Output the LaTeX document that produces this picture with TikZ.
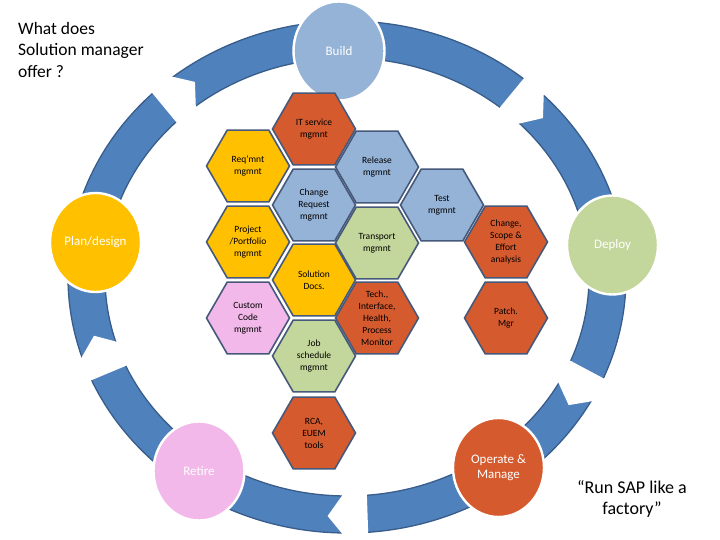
\documentclass[tikz,border=0pt]{standalone}
\usepackage{fontspec}
\setmainfont{Carlito}
\usetikzlibrary{shapes.geometric,shapes.symbols}
\definecolor{band}{HTML}{4F81BD}
\definecolor{bandedge}{HTML}{385D8A}
\definecolor{skyblue}{HTML}{95B3D7}
\definecolor{amber}{HTML}{FFC000}
\definecolor{sage}{HTML}{C3D69B}
\definecolor{blush}{HTML}{F3B8EA}
\definecolor{rust}{HTML}{D55A2E}
\definecolor{hexline}{HTML}{46597A}
\tikzset{
  stage/.style={ellipse,draw=white,line width=2.4pt,minimum width=91pt,minimum height=99pt,inner sep=0pt,align=center,text=white,font=\fontsize{13}{15}\selectfont},
  hex/.style={regular polygon,regular polygon sides=6,minimum size=83pt,inner sep=0pt,draw=hexline,line width=1.6pt},
  hexr/.style={hex,fill=rust},
  hexy/.style={hex,fill=amber},
  hexb/.style={hex,fill=skyblue},
  hexg/.style={hex,fill=sage},
  hexp/.style={hex,fill=blush},
  hextxt/.style={align=center,inner sep=0pt,font=\fontsize{9.5}{12}\selectfont,text=black},
  notch/.style={signal,signal to=east,signal pointer angle=105,fill=white,minimum width=40pt,minimum height=44pt,inner sep=0pt},
  headline/.style={align=left,inner sep=0pt,font=\fontsize{17.5}{21.5}\selectfont},
}

\begin{document}
\begin{tikzpicture}[x=1pt,y=-1pt]
  \fill[white] (0,0) rectangle (720,540);
  \useasboundingbox (0,0) rectangle (720,540);

  % ring
  \coordinate (hub) at (347,277);
  \draw[bandedge,line width=1.3pt,fill=band,even odd rule]
    (hub) ellipse [x radius=279pt,y radius=256pt]
    (hub) ellipse [x radius=242pt,y radius=219pt];
  \node[notch,rotate=39.5] (n1) at (173,100) {};
  \node[notch,rotate=-39.5] (n2) at (521,100) {};
  \node[notch,rotate=-118] (n3) at (582,380) {};
  \node[notch,rotate=182] (n4) at (356,515) {};
  \node[notch,rotate=112.7] (n5) at (105,362) {};

  % stages
  \node[stage,fill=skyblue] (build) at (339,51) {Build};
  \node[stage,fill=amber] (plan) at (95.5,242.5) {Plan/design};
  \node[stage,fill=sage] (deploy) at (612.5,245) {Deploy};
  \node[stage,fill=rust] (operate) at (498.5,467.5) {Operate \&\\Manage};
  \node[stage,fill=blush] (retire) at (199,471) {Retire};

  % honeycomb
  \node[hexr] (itsm) at (314,129) {};
  \node[hexy] (reqm) at (248,166) {};
  \node[hexb] (relm) at (377,167) {};
  \node[hexb] (chrq) at (314,205) {};
  \node[hexb] (testm) at (442,205) {};
  \node[hexy] (ppm) at (248,242) {};
  \node[hexg] (trans) at (377,243) {};
  \node[hexr] (scope) at (506,242) {};
  \node[hexy] (docs) at (314,280) {};
  \node[hexp] (ccm) at (248,318) {};
  \node[hexr] (mon) at (377,318) {};
  \node[hexr] (patch) at (506,318) {};
  \node[hexg] (jobs) at (314,356) {};
  \node[hexr] (rca) at (314,433) {};

  \node[hextxt] (itsm-t) at (itsm) {IT service\\mgmnt};
  \node[hextxt] (reqm-t) at (reqm) {Req’mnt\\mgmnt};
  \node[hextxt] (relm-t) at (relm) {Release\\mgmnt};
  \node[hextxt] (chrq-t) at (chrq) {Change\\Request\\mgmnt};
  \node[hextxt] (testm-t) at (testm) {Test\\mgmnt};
  \node[hextxt] (ppm-t) at (ppm) {Project\\/Portfolio\\mgmnt};
  \node[hextxt] (trans-t) at (trans) {Transport\\mgmnt};
  \node[hextxt] (scope-t) at (scope) {Change,\\Scope \&\\Effort\\analysis};
  \node[hextxt] (docs-t) at (docs) {Solution\\Docs.};
  \node[hextxt] (ccm-t) at (ccm) {Custom\\Code\\mgmnt};
  \node[hextxt] (mon-t) at (mon) {Tech.,\\Interface,\\Health,\\Process\\Monitor};
  \node[hextxt] (patch-t) at (patch) {Patch.\\Mgr};
  \node[hextxt] (jobs-t) at (jobs) {Job\\schedule\\mgmnt};
  \node[hextxt] (rca-t) at (rca) {RCA,\\EUEM\\tools};

  % captions
  \node[headline,anchor=north west] (ask) at (18,22) {What does\\Solution manager\\offer ?};
  \node[headline,font=\fontsize{18}{21}\selectfont,align=center,anchor=north] (motto) at (632,480) {“Run SAP like a\\factory”};
\end{tikzpicture}
\end{document}
